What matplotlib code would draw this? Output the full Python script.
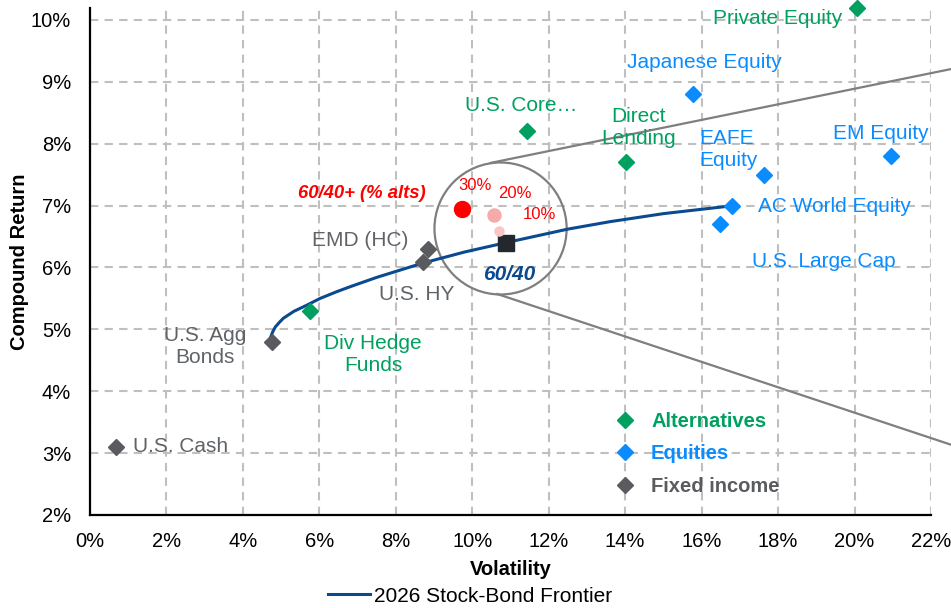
import matplotlib
matplotlib.use("Agg")
import matplotlib.pyplot as plt
from matplotlib.lines import Line2D
from matplotlib.patches import Ellipse
from matplotlib.ticker import FuncFormatter

plt.rcParams['font.family'] = ['Liberation Sans', 'DejaVu Sans']

GREEN = '#00A060'
BLUE = '#0A8CFF'
GRAY = '#595B5F'
NAVY = '#0B4A8F'

# asset classes: (volatility %, compound return %)
alt_names = ['Private Equity', 'U.S. Core…', 'Direct Lending', 'Div Hedge Funds']
alt_vol = [20.06, 11.42, 14.01, 5.76]
alt_ret = [10.19, 8.21, 7.70, 5.30]

eq_names = ['Japanese Equity', 'EAFE Equity', 'EM Equity', 'AC World Equity', 'U.S. Large Cap']
eq_vol = [15.77, 17.63, 20.95, 16.79, 16.47]
eq_ret = [8.80, 7.49, 7.80, 6.99, 6.70]

fi_names = ['EMD (HC)', 'U.S. HY', 'U.S. Agg Bonds', 'U.S. Cash']
fi_vol = [8.85, 8.72, 4.77, 0.68]
fi_ret = [6.30, 6.09, 4.80, 3.10]

# 2026 stock-bond frontier
front_vol = [4.73, 4.78, 4.85, 4.95, 5.06, 5.33, 5.67, 6.02, 6.46, 6.81, 7.5, 8.7,
             9.8, 10.87, 12.5, 13.6, 15.0, 16.7]
front_ret = [4.88, 4.96, 5.04, 5.11, 5.18, 5.29, 5.39, 5.50, 5.61, 5.69, 5.84, 6.07,
             6.25, 6.40, 6.62, 6.74, 6.87, 6.99]

# 60/40 and 60/40+ with alternatives
p6040 = (10.87, 6.40)
alts_pct = ['30%', '20%', '10%']
alts_vol = [9.74, 10.56, 10.69]
alts_ret = [6.95, 6.85, 6.59]

fig = plt.figure(figsize=(9.51, 6.08), dpi=100)
ax = fig.add_axes([0.0946, 0.153, 0.8844, 0.8345])

ax.set_xlim(0, 22)
ax.set_ylim(2, 10.2)
ax.set_xticks(range(0, 23, 2))
ax.set_yticks(range(2, 11))
pct = FuncFormatter(lambda v, p: f'{v:.0f}%')
ax.xaxis.set_major_formatter(pct)
ax.yaxis.set_major_formatter(pct)
ax.tick_params(length=0, labelsize=14.5, colors='black')
ax.tick_params(axis='x', pad=12.5)
ax.tick_params(axis='y', pad=13.5)
ax.grid(True, color='#BFBFBF', lw=1.5, ls=(0, (4, 3)))
ax.set_axisbelow(True)
for s in ['top', 'right']:
    ax.spines[s].set_visible(False)
for s in ['left', 'bottom']:
    ax.spines[s].set_linewidth(1.6)

ax.set_xlabel('Volatility', fontsize=14.5, fontweight='bold')
ax.set_ylabel('Compound Return', fontsize=14.5, fontweight='bold')
ax.xaxis.set_label_coords(0.5, -0.089)
ax.yaxis.set_label_coords(-0.073, 0.5)

# circle and cone
ax.add_patch(Ellipse((10.74, 6.63), 3.457, 2.133, fill=False, ec='#7F7F7F', lw=1.6, zorder=3))
ax.plot([10.48, 22.55], [7.69, 9.21], color='#7F7F7F', lw=1.6, clip_on=False, zorder=3)
ax.plot([10.66, 22.55], [5.57, 3.13], color='#7F7F7F', lw=1.6, clip_on=False, zorder=3)

front, = ax.plot(front_vol, front_ret, color=NAVY, lw=2.2, zorder=4,
                 label='2026 Stock-Bond Frontier')

ms = 8
ax.plot(alt_vol, alt_ret, 'D', color=GREEN, ms=ms, ls='none', zorder=5, clip_on=False)
ax.plot(eq_vol, eq_ret, 'D', color=BLUE, ms=ms, ls='none', zorder=5, clip_on=False)
ax.plot(fi_vol, fi_ret, 'D', color=GRAY, ms=ms, ls='none', zorder=5, clip_on=False)

ax.plot(*p6040, 's', color='#23272E', ms=12.2, zorder=6)
alt_colors = ['#FF0000', '#F7AAAA', '#F9C6C6']
alt_sizes = [11.5, 9.4, 6.5]
for v, r, c, s in zip(alts_vol, alts_ret, alt_colors, alt_sizes):
    ax.plot(v, r, 'o', color=c, ms=s, zorder=6)

fs = 15
# asset labels
ax.text(16.29, 10.03, 'Private Equity', color=GREEN, fontsize=fs, va='center')
ax.text(9.82, 8.61, 'U.S. Core…', color=GREEN, fontsize=fs, va='center')
ax.text(14.35, 8.26, 'Direct\nLending', color=GREEN, fontsize=fs, va='center', ha='center')
ax.text(7.41, 4.60, 'Div Hedge\nFunds', color=GREEN, fontsize=fs, va='center', ha='center')
ax.text(14.04, 9.32, 'Japanese Equity', color=BLUE, fontsize=fs, va='center')
ax.text(15.95, 7.91, 'EAFE\nEquity', color=BLUE, fontsize=fs, va='center')
ax.text(19.43, 8.17, 'EM Equity', color=BLUE, fontsize=fs, va='center')
ax.text(17.47, 6.99, 'AC World Equity', color=BLUE, fontsize=fs, va='center')
ax.text(17.31, 6.09, 'U.S. Large Cap', color=BLUE, fontsize=fs, va='center')
ax.text(8.33, 6.43, 'EMD (HC)', color='#5F6368', fontsize=fs, va='center', ha='right')
ax.text(7.57, 5.57, 'U.S. HY', color='#5F6368', fontsize=fs, va='center')
ax.text(3.01, 4.73, 'U.S. Agg\nBonds', color='#5F6368', fontsize=fs, va='center', ha='center')
ax.text(1.13, 3.10, 'U.S. Cash', color='#5F6368', fontsize=fs, va='center')

ax.text(8.77, 7.19, '60/40+ (% alts)', color='#FF0000', fontsize=13.3, fontweight='bold',
        fontstyle='italic', va='center', ha='right')
for lab, x, y in zip(alts_pct, [10.07, 11.12, 11.76], [7.32, 7.19, 6.86]):
    ax.text(x, y, lab, color='#FF0000', fontsize=12, va='center', ha='center')
ax.text(10.97, 5.89, '60/40', color=NAVY, fontsize=15, fontweight='bold',
        fontstyle='italic', va='center', ha='center')

# inner legend
handles = [Line2D([], [], marker='D', color=c, ls='none', ms=ms) for c in (GREEN, BLUE, GRAY)]
ax.legend(handles, ['Alternatives', 'Equities', 'Fixed income'], loc='upper left',
          bbox_to_anchor=(0.624, 0.203), frameon=False, borderpad=0, borderaxespad=0,
          handlelength=1.0, handletextpad=0.8, labelspacing=0.67,
          prop={'size': 14.5, 'weight': 'bold'}, labelcolor=[GREEN, BLUE, GRAY])

fig.legend([front], ['2026 Stock-Bond Frontier'], loc='center',
           bbox_to_anchor=(470 / 951, 1 - 596 / 608), frameon=False, fontsize=15,
           handlelength=2.0, handletextpad=0.2, borderpad=0)

fig.savefig('out.png', dpi=100)
